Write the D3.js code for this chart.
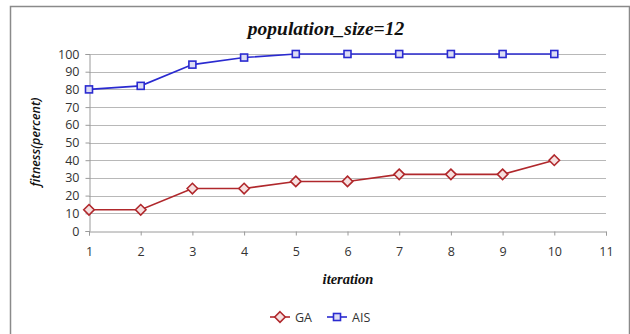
<!DOCTYPE html>
<html>
<head>
<meta charset="utf-8">
<script src="https://cdn.jsdelivr.net/npm/d3@7"></script>
<style>
  html, body { margin: 0; padding: 0; background: #fff; }
  svg { display: block; }
</style>
</head>
<body>
<svg id="chart" width="630" height="334"></svg>
<script>
// Fitness per iteration for two algorithms
const iterations = [1, 2, 3, 4, 5, 6, 7, 8, 9, 10];
const gaValues  = [12, 12, 24, 24, 28, 28, 32, 32, 32, 40];
const aisValues = [80, 82, 94, 98, 100, 100, 100, 100, 100, 100];
const xTicks = [1, 2, 3, 4, 5, 6, 7, 8, 9, 10, 11];
const yTicks = [0, 10, 20, 30, 40, 50, 60, 70, 80, 90, 100];

const svg = d3.select("#chart");

// Outer frame
svg.append("rect")
  .attr("x", 10.5).attr("y", 6.5)
  .attr("width", 619).attr("height", 340)
  .attr("fill", "#fff").attr("stroke", "#8a8a8a").attr("stroke-width", 1.5);

const x = d3.scaleLinear().domain([1, 11]).range([89, 606]);
const y = d3.scaleLinear().domain([0, 100]).range([231, 54]);

// Horizontal gridlines
svg.append("g").selectAll("line")
  .data(yTicks.filter(d => d > 0))
  .join("line")
  .attr("x1", x(1)).attr("x2", x(11))
  .attr("y1", d => Math.round(y(d)) + 0.5).attr("y2", d => Math.round(y(d)) + 0.5)
  .attr("stroke", "#b8b8b8").attr("stroke-width", 1);

// Y axis
const yAxis = svg.append("g")
  .attr("transform", `translate(${x(1) + 0.5},0)`)
  .call(d3.axisLeft(y).tickValues(yTicks).tickSize(4).tickPadding(6));

// X axis
const xAxis = svg.append("g")
  .attr("transform", `translate(0,${Math.round(y(0)) + 0.5})`)
  .call(d3.axisBottom(x).tickValues(xTicks).tickSize(4).tickPadding(12));

[yAxis, xAxis].forEach(g => {
  g.select(".domain").attr("stroke", "#9a9a9a");
  g.selectAll(".tick line").attr("stroke", "#9a9a9a");
  g.selectAll(".tick text")
    .attr("fill", "#333")
    .style("font-family", "'Open Sans', 'Liberation Sans', sans-serif")
    .style("font-size", "12.5px");
});

// Series
const series = [
  { name: "GA",  values: gaValues,  color: "#b0282c", fill: "#f6e0e0", shape: "diamond" },
  { name: "AIS", values: aisValues, color: "#2a2ad0", fill: "#dcdcf4", shape: "square" }
];

const line = d3.line()
  .x((d, i) => x(iterations[i]))
  .y(d => y(d));

function marker(g, shape, cx, cy, s) {
  if (shape === "diamond") {
    const r = s * 0.7;
    return g.append("path")
      .attr("d", `M${cx},${cy - r}L${cx + r},${cy}L${cx},${cy + r}L${cx - r},${cy}Z`);
  }
  return g.append("rect")
    .attr("x", cx - s / 2).attr("y", cy - s / 2)
    .attr("width", s).attr("height", s);
}

series.forEach(s => {
  svg.append("path")
    .datum(s.values)
    .attr("d", line)
    .attr("fill", "none")
    .attr("stroke", s.color)
    .attr("stroke-width", 1.6);
  const mg = svg.append("g");
  s.values.forEach((v, i) => {
    marker(mg, s.shape, x(iterations[i]), y(v), s.shape === "diamond" ? 7.5 : 7)
      .attr("fill", s.fill).attr("stroke", s.color).attr("stroke-width", 1.6);
  });
});

// Title and axis labels
svg.append("text")
  .attr("x", 326).attr("y", 35)
  .attr("text-anchor", "middle")
  .style("font-family", "'Liberation Serif', serif")
  .style("font-size", "19.5px").style("font-weight", "bold").style("font-style", "italic")
  .attr("fill", "#111")
  .text("population_size=12");

svg.append("text")
  .attr("transform", "translate(40,142) rotate(-90)")
  .attr("text-anchor", "middle")
  .style("font-family", "'Open Sans', 'Liberation Sans', sans-serif")
  .style("font-size", "12.5px").style("font-weight", "600").style("font-style", "italic")
  .attr("fill", "#111")
  .text("fitness(percent)");

svg.append("text")
  .attr("x", 348).attr("y", 284)
  .attr("text-anchor", "middle")
  .style("font-family", "'Liberation Serif', serif")
  .style("font-size", "14.5px").style("font-weight", "bold").style("font-style", "italic")
  .attr("fill", "#111")
  .text("iteration");

// Legend
const legend = svg.append("g");
const legendItems = [
  { s: series[0], x0: 270 },
  { s: series[1], x0: 327 }
];
legendItems.forEach(({ s, x0 }) => {
  const ly = 317;
  legend.append("line")
    .attr("x1", x0).attr("x2", x0 + 20).attr("y1", ly).attr("y2", ly)
    .attr("stroke", s.color).attr("stroke-width", 1.6);
  marker(legend, s.shape, x0 + 10, ly, s.shape === "diamond" ? 7.5 : 7)
    .attr("fill", s.fill).attr("stroke", s.color).attr("stroke-width", 1.6);
  legend.append("text")
    .attr("x", x0 + 25).attr("y", ly + 4.5)
    .style("font-family", "'Open Sans', 'Liberation Sans', sans-serif")
    .style("font-size", "12.5px")
    .attr("fill", "#333")
    .text(s.name);
});
</script>
</body>
</html>
